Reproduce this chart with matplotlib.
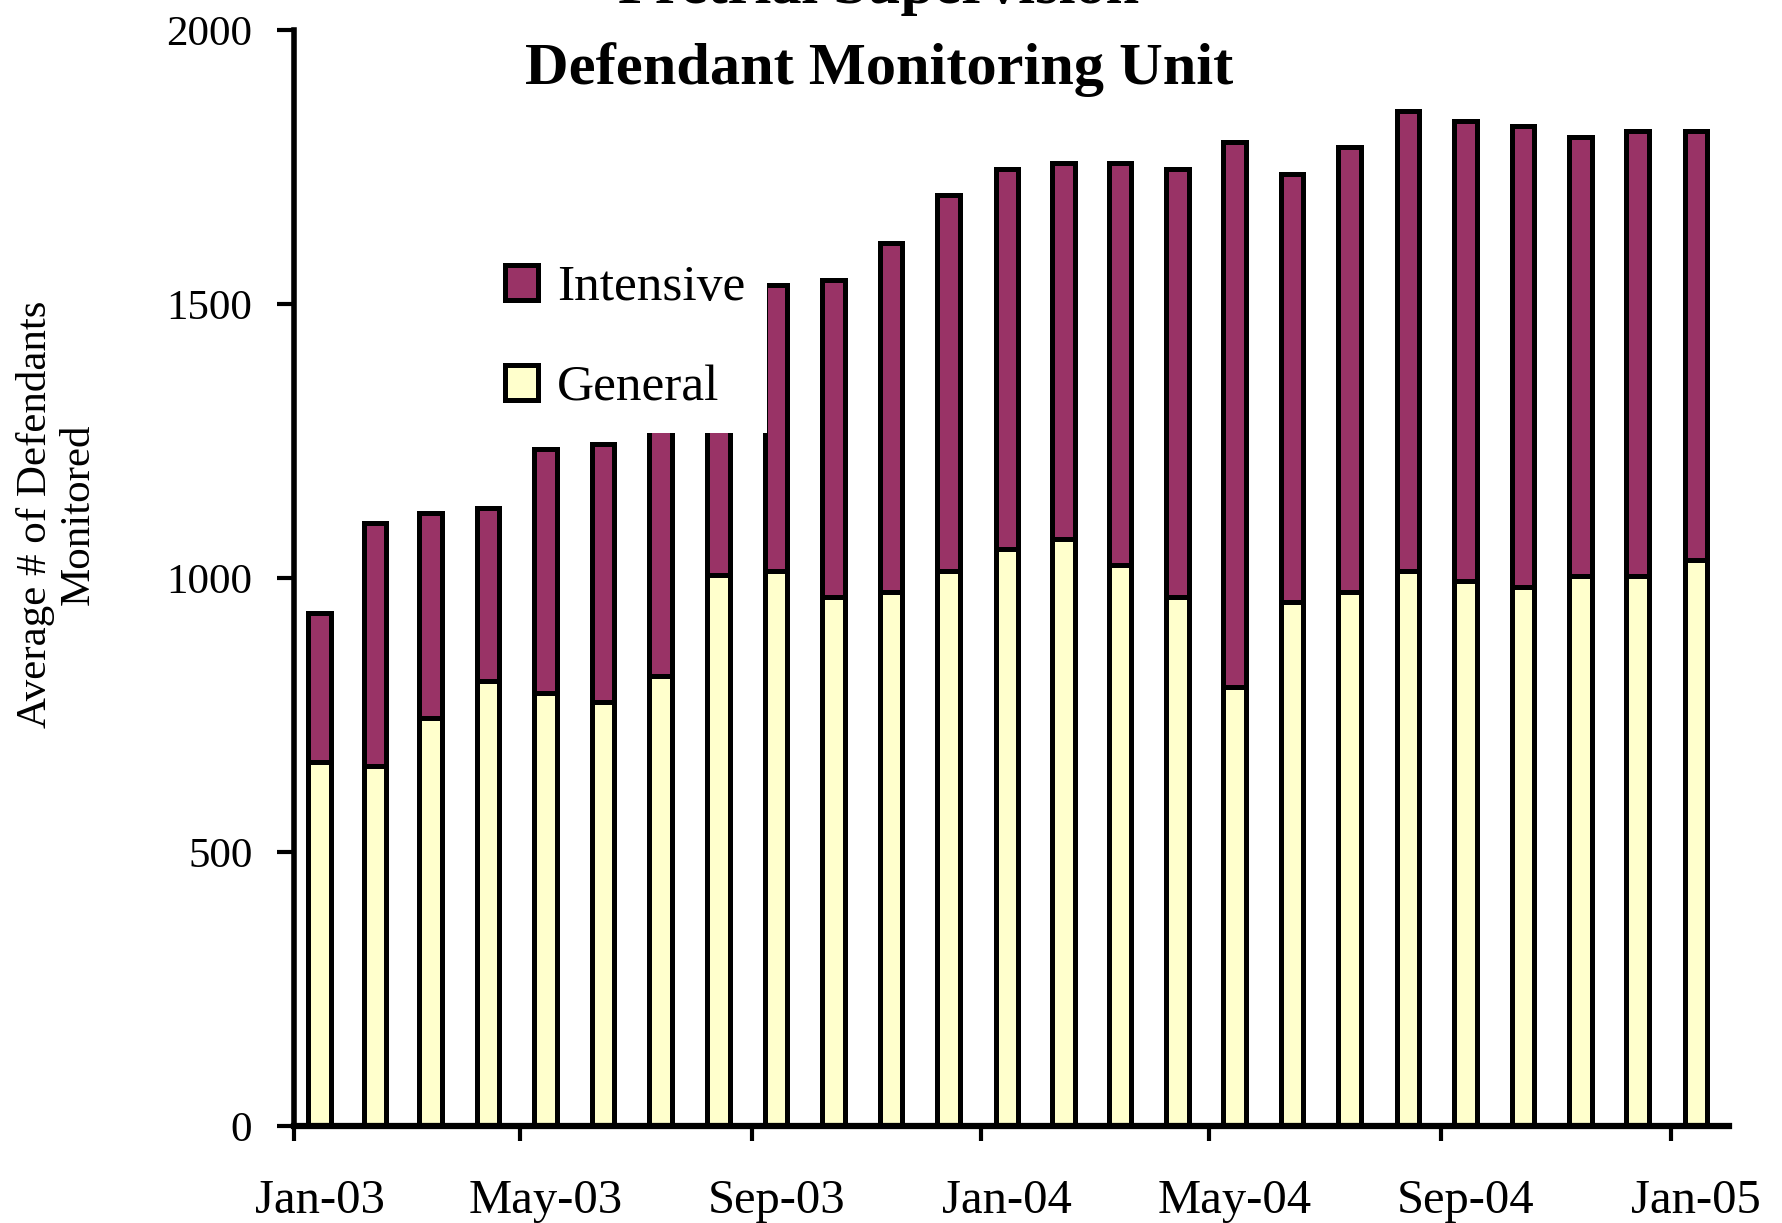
import matplotlib
matplotlib.use("Agg")
import matplotlib.pyplot as plt
import matplotlib.dates as mdates
import numpy as np
import pandas as pd

# ---- data ----
months = ["Jan-03", "Feb-03", "Mar-03", "Apr-03", "May-03", "Jun-03", "Jul-03",
          "Aug-03", "Sep-03", "Oct-03", "Nov-03", "Dec-03", "Jan-04", "Feb-04",
          "Mar-04", "Apr-04", "May-04", "Jun-04", "Jul-04", "Aug-04", "Sep-04",
          "Oct-04", "Nov-04", "Dec-04", "Jan-05"]
general = [665, 657, 744, 812, 791, 773, 821, 1006, 1013, 966, 975, 1013, 1052,
           1071, 1023, 966, 801, 956, 975, 1013, 994, 984, 1004, 1004, 1033]
intensive = [271, 443, 374, 316, 445, 472, 509, 414, 522, 578, 637, 686, 695,
             686, 734, 781, 994, 781, 811, 840, 840, 841, 801, 811, 782]
tick_labels = ["Jan-03", "May-03", "Sep-03", "Jan-04", "May-04", "Sep-04", "Jan-05"]

GEN_COLOR = "#FFFFCC"
INT_COLOR = "#993366"
FONT = "Liberation Serif"

plt.rcParams["font.family"] = [FONT, "DejaVu Serif"]

starts = pd.to_datetime(months, format="%b-%y")
ends = starts + pd.offsets.MonthBegin(1)
start_num = mdates.date2num(starts.to_pydatetime())
end_num = mdates.date2num(ends.to_pydatetime())
centers = (start_num + end_num) / 2.0 - 2.0

fig = plt.figure(figsize=(17.82, 12.23), dpi=100)
ax = fig.add_axes([0.165, 0.0793, 0.9703 - 0.165, 0.9755 - 0.0793])

gen = np.array(general)
inten = np.array(intensive)
b1 = ax.bar(centers, gen, width=12, color=GEN_COLOR, edgecolor="black",
            linewidth=3.6, label="General")
b2 = ax.bar(centers, inten, bottom=gen, width=12, color=INT_COLOR,
            edgecolor="black", linewidth=3.6, label="Intensive")

ax.set_ylim(0, 2000)
ax.set_xlim(start_num[0], end_num[-1])
ax.set_yticks([0, 500, 1000, 1500, 2000])
ax.tick_params(axis="y", direction="out", length=12, width=3, pad=18,
               labelsize=31)

# major ticks at month starts every 4 months, labels at bar centers
ax.set_xticks(start_num[::4])
ax.set_xticklabels([])
ax.tick_params(axis="x", which="major", direction="out", length=11, width=3)
ax.set_xticks(centers[::4], minor=True)
ax.set_xticklabels(tick_labels, minor=True)
ax.tick_params(axis="x", which="minor", length=0, pad=38, labelsize=35)

for s in ["top", "right"]:
    ax.spines[s].set_visible(False)
ax.spines["left"].set_linewidth(4)
ax.spines["bottom"].set_linewidth(4.5)

# legend (opaque white box)
leg = ax.legend(handles=[b2, b1], labels=["Intensive", "General"],
                loc="lower right", bbox_to_anchor=(767 / 1782, 1 - 433 / 1223),
                bbox_transform=fig.transFigure, borderaxespad=0,
                frameon=True, facecolor="white", edgecolor="none",
                framealpha=1, fancybox=False, fontsize=37,
                handlelength=0.64, handleheight=0.68, handletextpad=0.37,
                labelspacing=1.04, borderpad=0.42)
leg.set_zorder(5)

# y label
fig.text(0.0317, 0.5797, "Average # of Defendants\nMonitored", rotation=90,
         ha="center", va="center", multialignment="center", fontsize=31,
         linespacing=1.15)

# title (first line partly outside the figure, as in the original)
fig.text(0.4933, 1 - 3 / 1223, "Pretrial Supervision", ha="center",
         va="baseline", fontsize=43.5, fontweight="bold")
fig.text(0.4933, 1 - 84 / 1223, "Defendant Monitoring Unit", ha="center",
         va="baseline", fontsize=43.5, fontweight="bold")

fig.savefig("out.png", dpi=100)
